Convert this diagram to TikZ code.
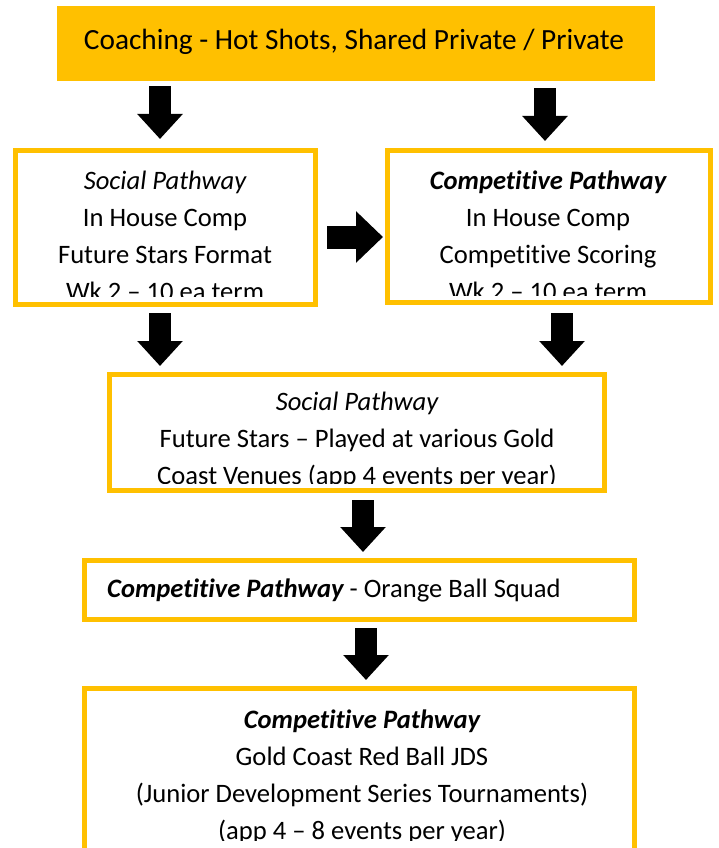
\documentclass[tikz,border=0pt]{standalone}
\usepackage{fontspec}
\setmainfont{Carlito}[Ligatures={TeX,NoCommon,NoContextual}]
\usetikzlibrary{arrows.meta}
\definecolor{gold}{HTML}{FFC000}
\newcommand{\bodyfont}{\fontsize{26.6}{37}\selectfont}
\newcommand{\topfont}{\fontsize{29.3}{35}\selectfont}
\tikzset{
  gbox/.style n args={2}{draw=gold, line width=5pt, minimum width=#1, minimum height=#2, inner sep=0pt, fill=white},
  ln/.style={anchor=base, inner sep=0pt, font=\bodyfont, text=black},
  barrow/.style={draw=black, line width=22pt, -{Triangle[width=44pt,length=25pt]}},
  harrow/.style={draw=black, line width=23pt, -{Triangle[width=50pt,length=27pt]}},
}
\begin{document}
\begin{tikzpicture}[x=1pt,y=-1pt]
\clip (0,0) rectangle (718,848);
\fill[white] (0,0) rectangle (718,848);
% top box
\node[fill=gold, minimum width=598pt, minimum height=75pt, inner sep=0pt] (top) at (356,43.5) {};
\node[anchor=base, inner sep=0pt, font=\topfont] (toptxt) at (354,50) {Coaching - Hot Shots, Shared Private / Private};
% boxes
\node[gbox={300pt}{154pt}] (soc) at (165.5,227.5) {};
\node[gbox={323pt}{152pt}] (comp) at (549,226.5) {};
\node[gbox={495pt}{116pt}] (mid) at (357,432.5) {};
\node[gbox={550pt}{59pt}] (sq) at (359.5,590) {};
\node[gbox={550pt}{203pt}] (jds) at (359.5,790) {};
% box 2 text
\begin{scope}
\clip (18,153) rectangle (313,296);
\node[ln] (s1) at (165,189) {\itshape Social Pathway};
\node[ln] (s2) at (165,226) {In House Comp};
\node[ln] (s3) at (165,263) {Future Stars Format};
\node[ln] (s4) at (165,300) {Wk 2 -- 10 ea term};
\end{scope}
% box 3 text
\begin{scope}
\clip (390,153) rectangle (708,295);
\node[ln] (c1) at (548,189) {\bfseries\itshape Competitive Pathway};
\node[ln] (c2) at (548,226) {In House Comp};
\node[ln] (c3) at (548,263) {Competitive Scoring};
\node[ln] (c4) at (548,300) {Wk 2 -- 10 ea term};
\end{scope}
% box 4 text
\begin{scope}
\clip (112,377) rectangle (602,483);
\node[ln] (m1) at (357,410) {\itshape Social Pathway};
\node[ln] (m2) at (357,447) {Future Stars -- Played at various Gold};
\node[ln] (m3) at (357,484) {Coast Venues (app 4 events per year)};
\end{scope}
% box 5 text
\node[ln, anchor=base west] (q1) at (107,597) {{\bfseries\itshape Competitive Pathway} - Orange Ball Squad};
% box 6 text
\begin{scope}
\clip (87,691) rectangle (632,840);
\node[ln] (j1) at (362,728) {\bfseries\itshape Competitive Pathway};
\node[ln] (j2) at (362,765) {Gold Coast Red Ball JDS};
\node[ln] (j3) at (362,802) {(Junior Development Series Tournaments)};
\node[ln] (j4) at (362,839) {(app 4 -- 8 events per year)};
\end{scope}
% arrows
\draw[barrow, shorten <=5pt, shorten >=9pt] (top.south -| 160,0) -- (soc.north -| 160,0);
\draw[barrow, shorten <=7pt, shorten >=7pt] (top.south -| 545,0) -- (comp.north -| 545,0);
\draw[harrow, shorten <=9pt, shorten >=2pt] (soc.east |- 0,237) -- (comp.west |- 0,237);
\draw[barrow, shorten <=6pt, shorten >=6pt] (soc.south -| 160,0) -- (mid.north -| 160,0);
\draw[barrow, shorten <=8pt, shorten >=6pt] (comp.south -| 562,0) -- (mid.north -| 562,0);
\draw[barrow, shorten <=7pt, shorten >=6pt] (mid.south -| 363,0) -- (sq.north -| 363,0);
\draw[barrow, shorten <=6pt, shorten >=6pt] (sq.south -| 366,0) -- (jds.north -| 366,0);
\end{tikzpicture}
\end{document}
